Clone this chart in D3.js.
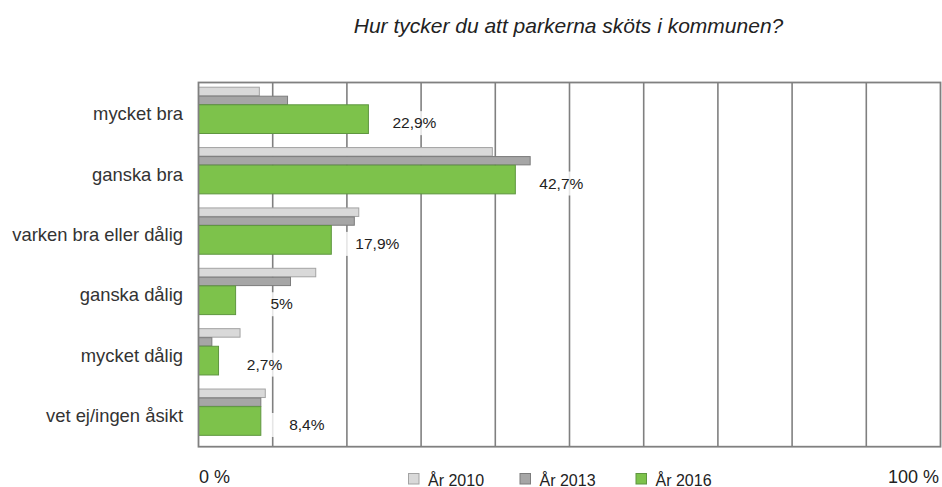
<!DOCTYPE html>
<html>
<head>
<meta charset="utf-8">
<script src="https://cdn.jsdelivr.net/npm/d3@7"></script>
<style>
  body { margin: 0; background: #fff; }
  svg text { font-family: "Liberation Sans", Arial, Helvetica, sans-serif; fill: #222; }
</style>
</head>
<body>
<svg id="chart" width="942" height="487"></svg>
<script>
// survey answers, share in percent
const categories = ["mycket bra", "ganska bra", "varken bra eller dålig", "ganska dålig", "mycket dålig", "vet ej/ingen åsikt"];
const years = ["År 2010", "År 2013", "År 2016"];
const values2010 = [8.2, 39.6, 21.6, 15.8, 5.6, 9.0];
const values2013 = [12.0, 44.7, 21.0, 12.4, 1.8, 8.4];
const values2016 = [22.9, 42.7, 17.9, 5, 2.7, 8.4];
const labels2016 = ["22,9%", "42,7%", "17,9%", "5%", "2,7%", "8,4%"];
const gridTicks = [10, 20, 30, 40, 50, 60, 70, 80, 90];

const svg = d3.select("#chart");

const x = d3.scaleLinear().domain([0, 100]).range([198.5, 940.5]);
const y = d3.scaleBand().domain(categories).range([84.5, 446.7]);

const fills = ["#d9d9d9", "#a6a6a6", "#7dc24b"];
const strokes = ["#a3a3a3", "#7c7c7c", "#5f9640"];

// title
svg.append("text")
  .attr("x", 568.5).attr("y", 33)
  .attr("text-anchor", "middle")
  .style("font-size", "21px")
  .style("font-style", "italic")
  .text("Hur tycker du att parkerna sköts i kommunen?");

// grid
const grid = svg.append("g");
grid.selectAll("line")
  .data(gridTicks)
  .enter().append("line")
  .attr("x1", d => x(d)).attr("x2", d => x(d))
  .attr("y1", 82.5).attr("y2", 446.7)
  .attr("stroke", "#808080")
  .attr("stroke-width", 1.6);

// category labels
svg.append("g").selectAll("text")
  .data(categories)
  .enter().append("text")
  .attr("x", 183)
  .attr("y", d => y(d) + y.bandwidth() / 2)
  .attr("dy", "0.3em")
  .attr("text-anchor", "end")
  .style("font-size", "18.4px")
  .style("fill", "#333")
  .text(d => d);

// bars: 2010, 2013, 2016 stacked inside each band
const series = [values2010, values2013, values2016];
const offsets = [2.2, 11.2, 19.8];
const heights = [9.5, 9.3, 29.7];

const barG = svg.append("g");
series.forEach((vals, s) => {
  barG.append("g").selectAll("rect")
    .data(categories)
    .enter().append("rect")
    .attr("x", x(0))
    .attr("y", d => y(d) + offsets[s] + 0.5)
    .attr("width", (d, i) => x(vals[i]) - x(0))
    .attr("height", heights[s] - 1)
    .attr("fill", fills[s])
    .attr("stroke", strokes[s])
    .attr("stroke-width", 1);
});

// value labels for 2016
const lab = svg.append("g").selectAll("g")
  .data(categories)
  .enter().append("g")
  .attr("transform", (d, i) => `translate(${x(values2016[i]) + 46},${y(d) + offsets[2] + heights[2] / 2 + 9})`);

lab.append("rect")
  .attr("x", -37).attr("y", -17)
  .attr("width", 74).attr("height", 24)
  .attr("fill", "#fff")
  .attr("opacity", 0.8);

lab.append("text")
  .attr("text-anchor", "middle")
  .style("font-size", "15.5px")
  .text((d, i) => labels2016[i]);

// frame
svg.append("rect")
  .attr("x", x(0)).attr("y", 82.5)
  .attr("width", x(100) - x(0)).attr("height", 446.7 - 82.5)
  .attr("fill", "none")
  .attr("stroke", "#808080")
  .attr("stroke-width", 1.8);

// axis ends
svg.append("text").attr("x", 199).attr("y", 483)
  .style("font-size", "18px").text("0 %");
svg.append("text").attr("x", 939).attr("y", 483)
  .attr("text-anchor", "end")
  .style("font-size", "18px").text("100 %");

// legend
const legendX = [408.5, 520, 636];
const leg = svg.append("g").selectAll("g")
  .data(years)
  .enter().append("g")
  .attr("transform", (d, i) => `translate(${legendX[i]},473.5)`);

leg.append("rect")
  .attr("width", 10.5).attr("height", 10.5)
  .attr("fill", (d, i) => fills[i])
  .attr("stroke", (d, i) => strokes[i])
  .attr("stroke-width", 1);

leg.append("text")
  .attr("x", 19.5).attr("y", 12)
  .style("font-size", "16px")
  .text(d => d);
</script>
</body>
</html>
